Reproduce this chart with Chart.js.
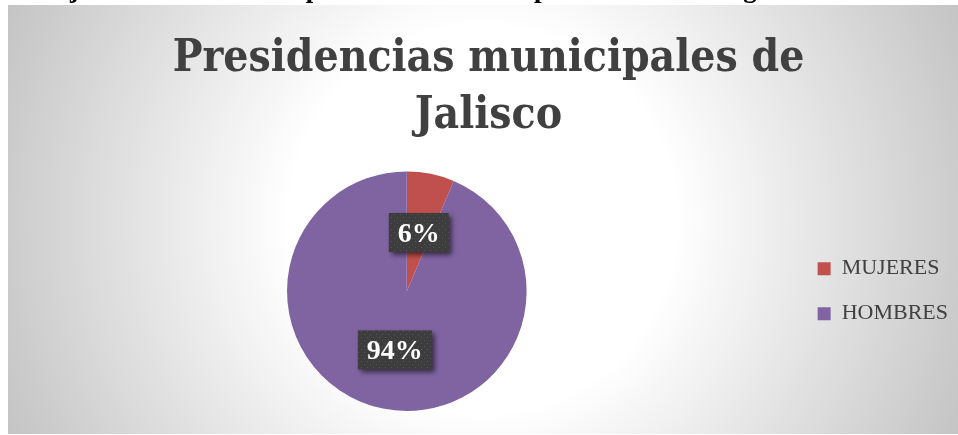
<!DOCTYPE html>
<html>
<head>
<meta charset="utf-8">
<script src="https://cdn.jsdelivr.net/npm/chart.js@4"></script>
<style>
  html, body { margin: 0; padding: 0; background: #fff; }
  #wrap { position: relative; width: 958px; height: 435px; overflow: hidden; }
  #cut { position: absolute; left: -33px; top: -25px; white-space: nowrap; z-index: 2;
         font: bold 27px/27px "Liberation Serif", serif; color: #000; }
  canvas { position: absolute; left: 0; top: 0; }
</style>
</head>
<body>
<div id="wrap">
  <div id="cut">Porcentaje de titulares de las presidencias municipales del estado según su sexo</div>
  <canvas id="chart" width="958" height="435"></canvas>
</div>
<script>
// data
const categories = ['MUJERES', 'HOMBRES'];
const values = [6.4, 93.6];   // percent of municipal presidencies
const sliceColors = ['#C0504D', '#8064A2'];
const titleLines = ['Presidencias municipales de', 'Jalisco'];

const SERIF = '"Liberation Serif", "Times New Roman", serif';
const TITLE_FONT = '"DejaVu Serif Condensed", "Liberation Serif", serif';

// grey radial background of the chart frame
const frameBg = {
  id: 'frameBg',
  beforeDraw(chart) {
    const ctx = chart.ctx;
    const x0 = 8, y0 = 5, x1 = 958, y1 = 434;
    const cx = (x0 + x1) / 2, cy = (y0 + y1) / 2;
    const r = Math.hypot(cx - x0, cy - y0);
    const g = ctx.createRadialGradient(cx, cy, 0, cx, cy, r);
    g.addColorStop(0, '#ffffff');
    g.addColorStop(0.37, '#ffffff');
    g.addColorStop(1, '#c4c4c4');
    ctx.save();
    ctx.fillStyle = g;
    ctx.fillRect(x0, y0, x1 - x0, y1 - y0);
    ctx.restore();
  }
};

// small dotted pattern for the label boxes
function dotPattern(ctx) {
  const p = document.createElement('canvas');
  p.width = 6; p.height = 6;
  const pc = p.getContext('2d');
  pc.fillStyle = '#3d3d3d';
  pc.fillRect(0, 0, 6, 6);
  pc.fillStyle = '#555555';
  pc.fillRect(1, 1, 1, 1);
  pc.fillRect(4, 4, 1, 1);
  return ctx.createPattern(p, 'repeat');
}

// percent labels in dark boxes at the middle of each slice
const sliceLabels = {
  id: 'sliceLabels',
  afterDatasetsDraw(chart) {
    const ctx = chart.ctx;
    const meta = chart.getDatasetMeta(0);
    const total = values.reduce((a, b) => a + b, 0);
    const fill = dotPattern(ctx);
    ctx.save();
    ctx.font = 'bold 28px ' + SERIF;
    meta.data.forEach((arc, i) => {
      const pos = arc.getCenterPoint();
      const txt = Math.round(values[i] / total * 100) + '%';
      const w = ctx.measureText(txt).width + 18;
      const h = 39;
      ctx.save();
      ctx.shadowColor = 'rgba(0,0,0,0.55)';
      ctx.shadowBlur = 5;
      ctx.shadowOffsetX = 3;
      ctx.shadowOffsetY = 3;
      ctx.fillStyle = fill;
      ctx.fillRect(pos.x - w / 2, pos.y - h / 2, w, h);
      ctx.restore();
      ctx.fillStyle = '#ffffff';
      ctx.textAlign = 'center';
      ctx.textBaseline = 'middle';
      ctx.fillText(txt, pos.x, pos.y + 2);
    });
    ctx.restore();
  }
};

new Chart(document.getElementById('chart'), {
  type: 'pie',
  data: {
    labels: categories,
    datasets: [{
      data: values,
      backgroundColor: sliceColors,
      borderWidth: 0
    }]
  },
  options: {
    responsive: false,
    animation: false,
    layout: { padding: { left: 19, right: 0, top: 0, bottom: 24 } },
    plugins: {
      title: {
        display: true,
        text: titleLines,
        color: '#404040',
        font: { family: TITLE_FONT, size: 44, weight: 'bold', lineHeight: 1.3 },
        padding: { top: 31, bottom: 26 }
      },
      legend: {
        position: 'right',
        fullSize: false,
        labels: {
          color: '#404040',
          boxWidth: 13,
          boxHeight: 13,
          padding: 23,
          font: { family: SERIF, size: 22 }
        }
      },
      tooltip: { enabled: false }
    }
  },
  plugins: [frameBg, sliceLabels]
});
</script>
</body>
</html>
